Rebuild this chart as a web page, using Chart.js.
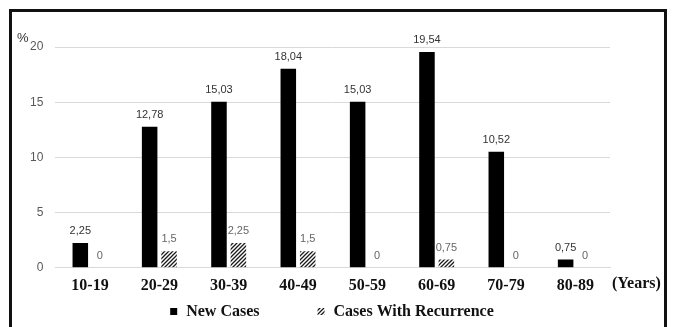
<!DOCTYPE html>
<html>
<head>
<meta charset="utf-8">
<script src="https://cdn.jsdelivr.net/npm/chart.js@4.4.0/dist/chart.umd.min.js"></script>
<style>
  body { margin: 0; background: #fff; }
  #wrap { position: relative; width: 681px; height: 327px; overflow: hidden; }
  #frame { position: absolute; left: 9px; top: 9px; width: 652px; height: 330px;
           border: 3px solid #111; border-bottom: none; pointer-events: none; }
  canvas { position: absolute; left: 0; top: 0; }
</style>
</head>
<body>
<div id="wrap">
  <canvas id="chart" width="681" height="327"></canvas>
  <div id="frame"></div>
</div>
<script>
var categories = ['10-19', '20-29', '30-39', '40-49', '50-59', '60-69', '70-79', '80-89']
var newCases = [2.25, 12.78, 15.03, 18.04, 15.03, 19.54, 10.52, 0.75]
var recurrence = [0, 1.5, 2.25, 1.5, 0, 0.75, 0, 0]
var yTicks = [0, 5, 10, 15, 20]

// diagonal hatch for the recurrence bars
function hatch() {
    var c = document.createElement('canvas')
    c.width = 4; c.height = 4
    var g = c.getContext('2d')
    g.fillStyle = '#fff'
    g.fillRect(0, 0, 4, 4)
    g.strokeStyle = '#1a1a1a'
    g.lineWidth = 1.3
    g.beginPath()
    g.moveTo(0, 4); g.lineTo(4, 0)
    g.moveTo(-1, 1); g.lineTo(1, -1)
    g.moveTo(3, 5); g.lineTo(5, 3)
    g.stroke()
    return g.createPattern(c, 'repeat')
}
var hatchFill = hatch()

function fmt(v) {
    return String(v).replace('.', ',')
}

var extras = {
    id: 'extras',
    afterDatasetsDraw: function(chart) {
        var ctx = chart.ctx
        var area = chart.chartArea
        ctx.save()
        // value labels
        ctx.font = '11px "Liberation Sans"'
        ctx.textAlign = 'center'
        ctx.textBaseline = 'middle'
        chart.data.datasets.forEach(function(ds, i) {
            ctx.fillStyle = i == 0 ? '#333' : '#666'
            chart.getDatasetMeta(i).data.forEach(function(bar, j) {
                ctx.fillText(fmt(ds.data[j]), bar.x, bar.y - 12)
            })
        })
        // % unit and (Years)
        ctx.fillStyle = '#333'
        ctx.font = '13px "Liberation Sans"'
        ctx.textAlign = 'left'
        ctx.fillText('%', 17, 38)
        ctx.fillStyle = '#111'
        ctx.font = 'bold 16px "Liberation Serif"'
        ctx.fillText('(Years)', area.right + 2, area.bottom + 16)
        // legend
        var items = chart.data.datasets.map(function(ds) { return {text: ds.label, fill: ds.backgroundColor} })
        var gap = 58, box = 7, pad = 9
        var total = 0
        items.forEach(function(it, k) {
            it.w = ctx.measureText(it.text).width
            total += box + pad + it.w + (k ? gap : 0)
        })
        var x = 332 - total / 2, y = 312
        items.forEach(function(it) {
            ctx.fillStyle = it.fill
            ctx.fillRect(x, y - 4, box, box)
            ctx.fillStyle = '#111'
            ctx.fillText(it.text, x + box + pad, y)
            x += box + pad + it.w + gap
        })
        ctx.restore()
    }
}

var ctx = document.getElementById('chart')
var chart = new Chart(ctx, {
    type: 'bar',
    data: {
        labels: categories,
        datasets: [
            {
                label: 'New Cases',
                data: newCases,
                backgroundColor: '#000',
                categoryPercentage: 0.56,
                barPercentage: 0.8
            },
            {
                label: 'Cases With Recurrence',
                data: recurrence,
                backgroundColor: hatchFill,
                categoryPercentage: 0.56,
                barPercentage: 0.8
            }
        ]
    },
    options: {
        responsive: false,
        animation: false,
        layout: {
            padding: {left: 18, right: 71, top: 47, bottom: 32}
        },
        plugins: {
            legend: {display: false},
            tooltip: {enabled: false}
        },
        scales: {
            x: {
                grid: {display: false},
                border: {color: '#d9d9d9'},
                ticks: {
                    padding: 0,
                    color: '#111',
                    font: {family: 'Liberation Serif', size: 16, weight: 'bold'}
                }
            },
            y: {
                min: 0,
                max: 20,
                afterBuildTicks: function(axis) {
                    axis.ticks = yTicks.map(function(v) { return {value: v} })
                },
                grid: {color: '#d9d9d9', drawTicks: false},
                border: {display: false},
                ticks: {
                    padding: 12,
                    color: '#595959',
                    font: {family: 'Liberation Sans', size: 12}
                }
            }
        }
    },
    plugins: [extras]
})
</script>
</body>
</html>
